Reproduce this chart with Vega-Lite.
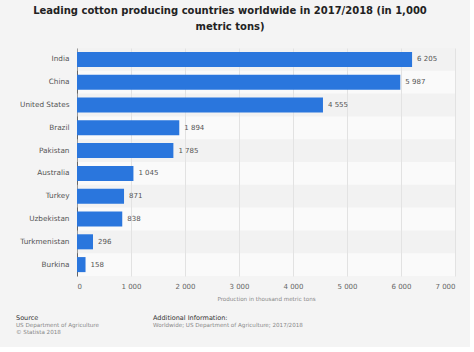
{
  "$schema": "https://vega.github.io/schema/vega-lite/v6.json",
  "background": "#f4f4f4",
  "padding": {"left": 5, "top": 5, "right": 15, "bottom": 8},
  "config": {
    "font": "DejaVu Sans",
    "locale": {"number": {"decimal": ".", "thousands": " ", "grouping": [3], "currency": ["", ""]}},
    "view": {"stroke": null},
    "concat": {"spacing": 12}
  },
  "title": {
    "text": ["Leading cotton producing countries worldwide in 2017/2018 (in 1,000", "metric tons)"],
    "font": "DejaVu Sans",
    "fontSize": 10,
    "fontWeight": "bold",
    "color": "#222222",
    "lineHeight": 16.5,
    "anchor": "middle",
    "offset": 16
  },
  "vconcat": [
    {
      "width": 378,
      "height": 228,
      "view": {"fill": "#fafafa", "stroke": null},
      "data": {
        "values": [
          {"country": "India", "production": 6205},
          {"country": "China", "production": 5987},
          {"country": "United States", "production": 4555},
          {"country": "Brazil", "production": 1894},
          {"country": "Pakistan", "production": 1785},
          {"country": "Australia", "production": 1045},
          {"country": "Turkey", "production": 871},
          {"country": "Uzbekistan", "production": 838},
          {"country": "Turkmenistan", "production": 296},
          {"country": "Burkina", "production": 158}
        ]
      },
      "transform": [{"window": [{"op": "row_number", "as": "rank"}]}],
      "encoding": {
        "y": {
          "field": "country",
          "type": "nominal",
          "sort": {"field": "rank", "op": "min", "order": "ascending"},
          "scale": {"paddingInner": 0, "paddingOuter": 0},
          "axis": {
            "title": null,
            "ticks": false,
            "domain": true,
            "domainColor": "#666666",
            "domainWidth": 1,
            "labelColor": "#555555",
            "labelFontSize": 7.3,
            "labelPadding": 8,
            "minExtent": 72,
            "maxExtent": 72,
            "grid": false
          }
        }
      },
      "layer": [
        {
          "transform": [{"filter": "datum.rank % 2 == 1"}],
          "mark": {"type": "bar", "height": {"band": 1}, "color": "#e6e6e6", "opacity": 0.4},
          "encoding": {
            "x": {"datum": 0, "type": "quantitative"},
            "x2": {"datum": 7000}
          }
        },
        {
          "mark": {"type": "bar", "height": {"band": 0.66}, "color": "#2a76dd"},
          "encoding": {
            "x": {
              "field": "production",
              "type": "quantitative",
              "scale": {"domain": [0, 7000], "nice": false},
              "axis": {
                "title": "Production in thousand metric tons",
                "titleFontSize": 5.6,
                "titleFontWeight": "normal",
                "titleColor": "#888888",
                "titlePadding": 7,
                "values": [0, 1000, 2000, 3000, 4000, 5000, 6000, 7000],
                "format": ",d",
                "labelFontSize": 7,
                "labelColor": "#666666",
                "labelPadding": 6,
                "ticks": false,
                "domain": false,
                "grid": true,
                "gridColor": "#e2e2e2",
                "gridWidth": 1
              }
            }
          }
        },
        {
          "mark": {"type": "text", "align": "left", "baseline": "middle", "dx": 5, "fontSize": 7, "color": "#555555"},
          "encoding": {
            "x": {"field": "production", "type": "quantitative"},
            "text": {"field": "production", "type": "quantitative", "format": ",d"}
          }
        }
      ]
    },
    {
      "hconcat": [
        {
          "width": 66,
          "height": 1,
          "data": {"values": []},
          "mark": "text",
          "title": {
            "text": "Source",
            "subtitle": ["US Department of Agriculture", "© Statista 2018"],
            "anchor": "start",
            "dx": -61,
            "fontSize": 6.5,
            "fontWeight": "normal",
            "color": "#333333",
            "subtitleFontSize": 5.6,
            "subtitleColor": "#888888",
            "subtitleLineHeight": 7,
            "subtitlePadding": 2,
            "offset": 2
          }
        },
        {
          "width": 200,
          "height": 1,
          "data": {"values": []},
          "mark": "text",
          "title": {
            "text": "Additional Information:",
            "subtitle": ["Worldwide; US Department of Agriculture; 2017/2018", " "],
            "anchor": "start",
            "dx": -61,
            "fontSize": 6.5,
            "fontWeight": "normal",
            "color": "#333333",
            "subtitleFontSize": 5.6,
            "subtitleColor": "#888888",
            "subtitleLineHeight": 7,
            "subtitlePadding": 2,
            "offset": 2
          }
        }
      ],
      "spacing": 10
    }
  ]
}
